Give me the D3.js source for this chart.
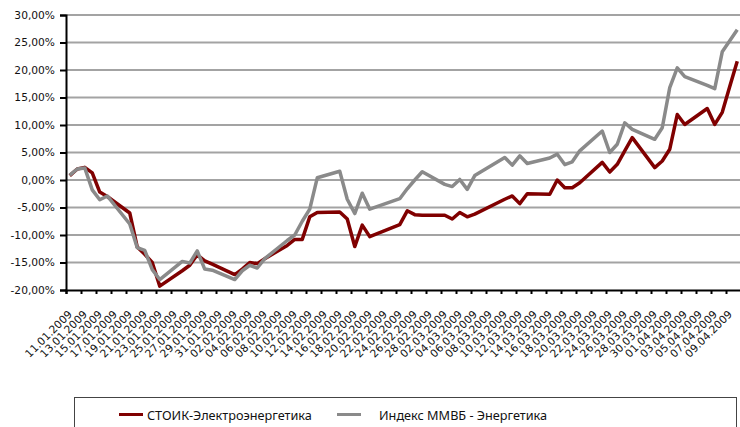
<!DOCTYPE html>
<html>
<head>
<meta charset="utf-8">
<script src="https://cdn.jsdelivr.net/npm/d3@7"></script>
<style>
  body { margin: 0; background: #fff; }
  svg { display: block; }
</style>
</head>
<body>
<svg id="plot"></svg>
<script>
// trading days
const dates = [
  "11.01.2009","12.01.2009","13.01.2009","14.01.2009","15.01.2009","16.01.2009",
  "19.01.2009","20.01.2009","21.01.2009","22.01.2009","23.01.2009",
  "26.01.2009","27.01.2009","28.01.2009","29.01.2009","30.01.2009",
  "02.02.2009","03.02.2009","04.02.2009","05.02.2009","06.02.2009",
  "09.02.2009","10.02.2009","11.02.2009","12.02.2009","13.02.2009",
  "16.02.2009","17.02.2009","18.02.2009","19.02.2009","20.02.2009",
  "24.02.2009","25.02.2009","26.02.2009","27.02.2009",
  "02.03.2009","03.03.2009","04.03.2009","05.03.2009","06.03.2009",
  "10.03.2009","11.03.2009","12.03.2009","13.03.2009",
  "16.03.2009","17.03.2009","18.03.2009","19.03.2009","20.03.2009",
  "23.03.2009","24.03.2009","25.03.2009","26.03.2009","27.03.2009",
  "30.03.2009","31.03.2009","01.04.2009","02.04.2009","03.04.2009",
  "06.04.2009","07.04.2009","08.04.2009","09.04.2009","10.04.2009"
];

// СТОИК-Электроэнергетика, %
const stoik = [
  0.8, 2.0, 2.3, 1.3, -2.2, -3.0,
  -6.0, -12.2, -13.5, -15.0, -19.3,
  -16.5, -15.5, -13.6, -14.7, -15.3,
  -17.2, -16.2, -15.0, -15.2, -14.3,
  -11.9, -10.8, -10.8, -6.7, -5.9,
  -5.8, -7.1, -12.1, -8.2, -10.3,
  -8.1, -5.6, -6.3, -6.4,
  -6.4, -7.1, -5.9, -6.7, -6.2,
  -3.5, -2.9, -4.3, -2.5,
  -2.6, 0.0, -1.4, -1.4, -0.5,
  3.2, 1.45, 2.85, 5.3, 7.7,
  2.25, 3.45, 5.6, 11.9, 10.1,
  13.0, 10.1, 12.3, 17.0, 21.6
];

// Индекс ММВБ - Энергетика, %
const micex = [
  0.9, 2.0, 2.2, -1.8, -3.6, -2.9,
  -8.0, -12.3, -12.8, -16.3, -18.1,
  -14.8, -15.1, -12.9, -16.2, -16.4,
  -18.1, -16.5, -15.5, -16.0, -14.3,
  -11.0, -10.0, -7.5, -5.3, 0.4,
  1.6, -3.5, -6.1, -2.4, -5.3,
  -3.4, -1.6, 0.0, 1.5,
  -0.8, -1.2, 0.1, -1.7, 0.8,
  4.1, 2.7, 4.4, 3.0,
  4.0, 4.7, 2.8, 3.3, 5.3,
  8.9, 5.0, 6.5, 10.4, 9.2,
  7.4, 9.5, 16.8, 20.4, 18.8,
  17.2, 16.6, 23.3, 25.3, 27.3
];

// axis labels
const xTickLabels = [
  "11.01.2009","13.01.2009","15.01.2009","17.01.2009","19.01.2009","21.01.2009",
  "23.01.2009","25.01.2009","27.01.2009","29.01.2009","31.01.2009","02.02.2009",
  "04.02.2009","06.02.2009","08.02.2009","10.02.2009","12.02.2009","14.02.2009",
  "16.02.2009","18.02.2009","20.02.2009","22.02.2009","24.02.2009","26.02.2009",
  "28.02.2009","02.03.2009","04.03.2009","06.03.2009","08.03.2009","10.03.2009",
  "12.03.2009","14.03.2009","16.03.2009","18.03.2009","20.03.2009","22.03.2009",
  "24.03.2009","26.03.2009","28.03.2009","30.03.2009","01.04.2009","03.04.2009",
  "05.04.2009","07.04.2009","09.04.2009"
];
const yTicks = [-20, -15, -10, -5, 0, 5, 10, 15, 20, 25, 30];

const seriesNames = ["СТОИК-Электроэнергетика", "Индекс ММВБ - Энергетика"];
const seriesColors = ["#800000", "#8a8a8a"];

// init setting
const W = 740, H = 427;
const svg = d3.select("#plot").attr("width", W).attr("height", H);
const margin = { top: 15, right: -1, bottom: 137, left: 66 };
const parse = d3.utcParse("%d.%m.%Y");
const tickFont = "'DejaVu Sans', Verdana, sans-serif";

// date axis: one slot per calendar day, values at slot centre
const x = d3.scaleUtc()
  .domain([parse("11.01.2009"), parse("11.04.2009")])
  .range([margin.left, W - margin.right]);
const mid = d => d3.utcHour.offset(parse(d), 12);

const y = d3.scaleLinear()
  .domain([-20, 30])
  .range([H - margin.bottom, margin.top]);

// gridlines
svg.append("g")
  .selectAll("line")
  .data(yTicks.filter(d => d !== -20))
  .enter().append("line")
  .attr("x1", margin.left).attr("x2", W - margin.right)
  .attr("y1", d => y(d)).attr("y2", d => y(d))
  .attr("stroke", "#a3a3a3")
  .attr("stroke-width", 2);

// y axis
const yAxis = svg.append("g")
  .attr("transform", `translate(${margin.left},0)`)
  .call(d3.axisLeft(y).tickValues(yTicks).tickSize(6).tickPadding(5)
    .tickFormat(d => d.toFixed(2).replace(".", ",") + "%"));
yAxis.select(".domain").attr("stroke", "#000").attr("stroke-width", 2);
yAxis.selectAll(".tick line").attr("stroke", "#000").attr("stroke-width", 2);
yAxis.selectAll(".tick text")
  .style("font-family", tickFont).style("font-size", "10.67px").attr("fill", "#111");

// x axis (ticks every 2 days)
const xAxis = svg.append("g")
  .attr("transform", `translate(0,${y(-20)})`)
  .call(d3.axisBottom(x).tickValues(xTickLabels.map(parse)).tickSize(4).tickFormat(""));
xAxis.select(".domain").attr("stroke", "#000").attr("stroke-width", 2);
xAxis.selectAll(".tick line").attr("stroke", "#000").attr("stroke-width", 2);

// rotated date labels
svg.append("g")
  .selectAll("text")
  .data(xTickLabels)
  .enter().append("text")
  .attr("transform", d => `translate(${x(mid(d)) + 3},${y(-20) + 25}) rotate(-45)`)
  .attr("text-anchor", "end")
  .style("font-family", tickFont)
  .style("font-size", "10.67px")
  .attr("fill", "#111")
  .text(d => d);

// lines: red first, grey on top
const line = d3.line()
  .x((d, i) => x(mid(dates[i])))
  .y(d => y(d));

[stoik, micex].forEach((s, k) => {
  svg.append("path")
    .datum(s)
    .attr("d", line)
    .attr("fill", "none")
    .attr("stroke", seriesColors[k])
    .attr("stroke-width", 3.5)
    .attr("stroke-linejoin", "round");
});

// legend box
const legend = svg.append("g");
legend.append("rect")
  .attr("x", 74.5).attr("y", 397.5)
  .attr("width", 662).attr("height", 40)
  .attr("fill", "none").attr("stroke", "#444").attr("stroke-width", 1);

const legendItems = [
  { sx: 119, tx: 147 },
  { sx: 337, tx: 379 }
];
legendItems.forEach((it, k) => {
  legend.append("line")
    .attr("x1", it.sx).attr("x2", it.sx + 24)
    .attr("y1", 414.5).attr("y2", 414.5)
    .attr("stroke", seriesColors[k]).attr("stroke-width", 3);
  legend.append("text")
    .attr("x", it.tx).attr("y", 419.5)
    .style("font-family", "'Noto Sans', sans-serif")
    .style("font-size", "12.7px")
    .attr("fill", "#111")
    .text(seriesNames[k]);
});
</script>
</body>
</html>
